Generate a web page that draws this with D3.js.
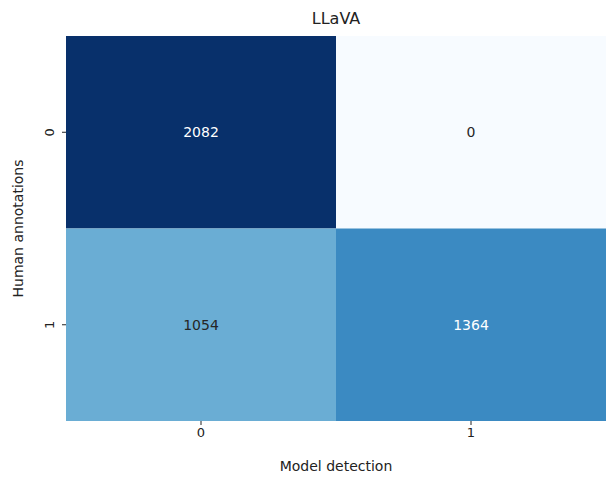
<!DOCTYPE html>
<html><head><meta charset="utf-8">
<script src="https://cdn.jsdelivr.net/npm/d3@7"></script>
<style>body{margin:0;background:#fff;font-family:"DejaVu Sans",sans-serif}</style>
</head><body><svg id="c" width="609" height="482"></svg>
<script>
const xCats=["0","1"];
const yCats=["0","1"];
const values=[[2082,0],[1054,1364]];
const title="LLaVA", xLabel="Model detection", yLabel="Human annotations";

const svg=d3.select("#c");
const m={l:66,r:3,t:36,b:61};
const W=609-m.l-m.r,H=482-m.t-m.b;
const g=svg.append("g").attr("transform",`translate(${m.l},${m.t})`);
const x=d3.scaleBand().domain(xCats).range([0,W]);
const y=d3.scaleBand().domain(yCats).range([0,H]);
const color=d3.scaleSequential(d3.interpolateBlues).domain([0,2082]);
const cells=[];
yCats.forEach((r,i)=>xCats.forEach((c,j)=>cells.push({r,c,v:values[i][j]})));
g.selectAll("rect").data(cells).join("rect")
 .attr("x",d=>x(d.c)).attr("y",d=>y(d.r)).attr("width",x.bandwidth()).attr("height",y.bandwidth())
 .attr("fill",d=>color(d.v));
g.selectAll("text.v").data(cells).join("text").attr("class","v")
 .attr("x",d=>x(d.c)+x.bandwidth()/2).attr("y",d=>y(d.r)+y.bandwidth()/2)
 .attr("text-anchor","middle").attr("dominant-baseline","central").attr("font-size",14)
 .attr("fill",d=>{const c=d3.rgb(color(d.v));const l=(0.299*c.r+0.587*c.g+0.114*c.b)/255;return l<0.6?"#fff":"#262626";})
 .text(d=>d.v);
const xa=g.append("g").attr("transform",`translate(0,${H})`).call(d3.axisBottom(x).tickSize(4));
const ya=g.append("g").call(d3.axisLeft(y).tickSize(4));
[xa,ya].forEach(a=>{a.select(".domain").remove();a.selectAll("text").attr("font-size",13).attr("font-family","DejaVu Sans").attr("fill","#222");a.selectAll("line").attr("stroke","#222");});
ya.selectAll(".tick text").attr("transform","rotate(-90)").attr("text-anchor","middle").attr("x",0).attr("y",0).attr("dy","-0.9em");
ya.selectAll(".tick text").attr("transform","translate(-12,0) rotate(-90)").attr("dy","0");
svg.append("text").attr("x",m.l+W/2).attr("y",24).attr("text-anchor","middle").attr("font-size",16).attr("fill","#222").text(title);
svg.append("text").attr("x",m.l+W/2).attr("y",471).attr("text-anchor","middle").attr("font-size",14).attr("fill","#222").text(xLabel);
svg.append("text").attr("transform",`translate(23,${m.t+H/2}) rotate(-90)`).attr("text-anchor","middle").attr("font-size",14).attr("fill","#222").text(yLabel);
</script></body></html>
